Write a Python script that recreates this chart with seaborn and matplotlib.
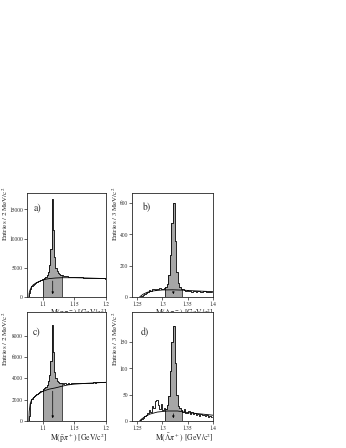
import numpy as np
import pandas as pd
import matplotlib
matplotlib.use('Agg')
import matplotlib.pyplot as plt
import seaborn as sns

sns.set_style('ticks')
plt.rcParams['font.family'] = ['STIXGeneral', 'DejaVu Serif']
plt.rcParams['mathtext.fontset'] = 'stix'

# --- Lambda -> p pi- (panel a), 2 MeV bins starting at 1.078 GeV
lam_lo, lam_width = 1.078, 0.002
counts_a = [700, 1400, 1800, 2100, 2300, 2450, 2600, 2700, 2800, 2900,
            3000, 3100, 3250, 3450, 3800, 4300, 5400, 8200, 16700, 11500,
            6800, 5000, 4400, 4100, 3900, 3800, 3700, 3650, 3600, 3550,
            3520, 3500, 3480, 3470, 3440, 3440, 3420, 3410, 3390, 3390,
            3370, 3350, 3350, 3330, 3310, 3320, 3300, 3280, 3280, 3260,
            3250, 3250, 3240, 3220, 3230, 3210, 3200, 3190, 3190, 3170, 3160]
bg_a_x = [1.078, 1.0785, 1.080, 1.082, 1.085, 1.09, 1.095, 1.10, 1.105,
          1.11, 1.12, 1.13, 1.15, 1.17, 1.20]
bg_a_y = [0, 700, 1250, 1700, 2100, 2450, 2700, 2900, 3050,
          3150, 3250, 3300, 3300, 3250, 3150]

# --- anti-Lambda -> pbar pi+ (panel c)
counts_c = [500, 1700, 2050, 2200, 2350, 2450, 2550, 2650, 2700, 2800,
            2850, 2950, 3050, 3200, 3400, 3700, 4300, 5600, 9000, 6500,
            4600, 4000, 3750, 3650, 3580, 3540, 3520, 3500, 3510, 3490,
            3500, 3510, 3500, 3520, 3510, 3530, 3520, 3540, 3530, 3550,
            3540, 3560, 3550, 3570, 3560, 3580, 3570, 3590, 3580, 3600,
            3590, 3610, 3600, 3620, 3610, 3630, 3620, 3640, 3630, 3650, 3640]
bg_c_x = [1.078, 1.0785, 1.080, 1.082, 1.085, 1.09, 1.095, 1.10, 1.105,
          1.11, 1.12, 1.13, 1.14, 1.15, 1.17, 1.20]
bg_c_y = [0, 900, 1600, 1950, 2150, 2400, 2600, 2780, 2880,
          2980, 3100, 3250, 3380, 3450, 3530, 3620]

# --- Xi- -> Lambda pi- (panel b), 3 MeV bins starting at 1.255 GeV
xi_lo, xi_width = 1.255, 0.003
counts_b = [2, 8, 14, 18, 25, 35, 42, 40, 50, 48, 45, 52, 48, 55, 50, 52,
            58, 65, 85, 140, 270, 470, 600, 360, 160, 90, 62, 52, 48, 45,
            40, 42, 38, 40, 35, 38, 36, 34, 36, 38, 35, 32, 36, 40, 33, 30, 32, 30]
bg_b_x = [1.255, 1.258, 1.262, 1.27, 1.28, 1.29, 1.30, 1.32, 1.34, 1.36, 1.38, 1.40]
bg_b_y = [0, 8, 18, 30, 38, 42, 45, 46, 44, 40, 37, 34]

# --- anti-Xi+ -> anti-Lambda pi+ (panel d)
counts_d = [2, 4, 6, 9, 12, 15, 20, 18, 28, 25, 38, 40, 30, 22, 32, 20,
            25, 22, 30, 48, 95, 150, 180, 110, 50, 28, 25, 20, 18, 22,
            16, 15, 19, 14, 17, 13, 15, 12, 14, 10, 13, 11, 12, 9, 11, 8, 10, 7]
bg_d_x = [1.255, 1.258, 1.265, 1.275, 1.29, 1.31, 1.33, 1.35, 1.37, 1.39, 1.40]
bg_d_y = [0, 3, 8, 13, 17, 19, 19, 16, 14, 12, 11]

m_lambda, m_xi = 1.1157, 1.3217
win_lambda = (1.100, 1.130)
win_xi = (1.306, 1.339)

lam_xticks, lam_xlabels = [1.1, 1.15, 1.2], ['1.1', '1.15', '1.2']
xi_xticks, xi_xlabels = [1.25, 1.3, 1.35, 1.4], ['1.25', '1.3', '1.35', '1.4']


def panel(ax, lo, width, counts, bg_x, bg_y, window, mass, xlim, ylim,
          xticks, xlabels, yticks, ylabel, xlabel, letter, lpos,
          ylab_x, ylab_y, xlab_y):
    counts = np.array(counts, dtype=float)
    edges = np.round(lo + width * np.arange(len(counts) + 1), 4)

    # shaded signal window
    k0 = int(round((window[0] - lo) / width))
    k1 = int(round((window[1] - lo) / width))
    wx = edges[k0:k1 + 1]
    wy = np.r_[counts[k0:k1], counts[k1 - 1]]
    ax.fill_between(wx, 0, wy, step='post', color='#a6a6a6', linewidth=0)
    ax.vlines([wx[0], wx[-1]], 0, [counts[k0], counts[k1 - 1]],
              color='black', linewidth=0.5)

    # full spectrum as a step line
    sx = np.r_[edges[0], edges]
    sy = np.r_[0, counts, counts[-1]]
    step = pd.DataFrame({'m': sx, 'n': sy})
    sns.lineplot(data=step, x='m', y='n', drawstyle='steps-post', sort=False,
                 estimator=None, color='black', linewidth=0.6, ax=ax)
    # background fit
    sns.lineplot(x=bg_x, y=bg_y, color='black', linewidth=0.6, ax=ax)

    top = np.interp(mass, bg_x, bg_y)
    ax.annotate('', xy=(mass, 0), xytext=(mass, top),
                arrowprops=dict(arrowstyle='-|>', lw=0.5, color='black',
                                mutation_scale=3))

    ax.set_xlim(*xlim)
    ax.set_ylim(*ylim)
    ax.set_xticks(xticks)
    ax.set_xticklabels(xlabels)
    ax.set_yticks(yticks)
    ax.set_yticklabels([str(t) for t in yticks])
    ax.tick_params(labelsize=4, length=2, width=0.5, pad=1)
    ax.tick_params(axis='y', pad=0.8)
    for s in ax.spines.values():
        s.set_linewidth(0.6)
        s.set_visible(True)
    ax.set_ylabel(ylabel, fontsize=5, loc='top')
    ax.yaxis.set_label_coords(ylab_x, ylab_y)
    ax.set_xlabel(xlabel, fontsize=5.5, loc='right')
    ax.xaxis.set_label_coords(1.01, xlab_y)
    ax.text(lpos[0], lpos[1], letter, transform=ax.transAxes, fontsize=7,
            ha='left', va='center')


fig = plt.figure(figsize=(3.46, 4.48), dpi=100)
W, H = 346, 448
ax_a = fig.add_axes([27 / W, 151 / H, 79 / W, 104 / H])
ax_b = fig.add_axes([132 / W, 151 / H, 81 / W, 104 / H])
ax_c = fig.add_axes([27 / W, 27 / H, 79 / W, 109 / H])
ax_d = fig.add_axes([132 / W, 27 / H, 81 / W, 109 / H])

panel(ax_a, lam_lo, lam_width, counts_a, bg_a_x, bg_a_y, win_lambda, m_lambda,
      (1.075, 1.2), (0, 17800), lam_xticks, lam_xlabels, [0, 5000, 10000, 15000],
      r'Entries / 2 MeV/c$^2$', r'M(p$\pi^-$) [GeV/c$^2$]', 'a)', (0.09, 0.85),
      -0.22, 1.06, -0.09)
panel(ax_b, xi_lo, xi_width, counts_b, bg_b_x, bg_b_y, win_xi, m_xi,
      (1.24, 1.4), (0, 665), xi_xticks, xi_xlabels, [0, 200, 400, 600],
      r'Entries / 3 MeV/c$^2$', r'M($\Lambda\pi^-$) [GeV/c$^2$]', 'b)', (0.12, 0.86),
      -0.15, 1.06, -0.09)
panel(ax_c, lam_lo, lam_width, counts_c, bg_c_x, bg_c_y, win_lambda, m_lambda,
      (1.075, 1.2), (0, 10200), lam_xticks, lam_xlabels, [0, 2000, 4000, 6000, 8000],
      r'Entries / 2 MeV/c$^2$', r'M($\bar{\rm p}\pi^+$) [GeV/c$^2$]', 'c)', (0.07, 0.81),
      -0.22, 1.0, -0.10)
panel(ax_d, xi_lo, xi_width, counts_d, bg_d_x, bg_d_y, win_xi, m_xi,
      (1.24, 1.4), (0, 207), xi_xticks, xi_xlabels, [0, 50, 100, 150],
      r'Entries / 3 MeV/c$^2$', r'M($\bar{\Lambda}\pi^+$) [GeV/c$^2$]', 'd)', (0.11, 0.81),
      -0.15, 1.0, -0.10)

fig.savefig('out.png', dpi=100)
